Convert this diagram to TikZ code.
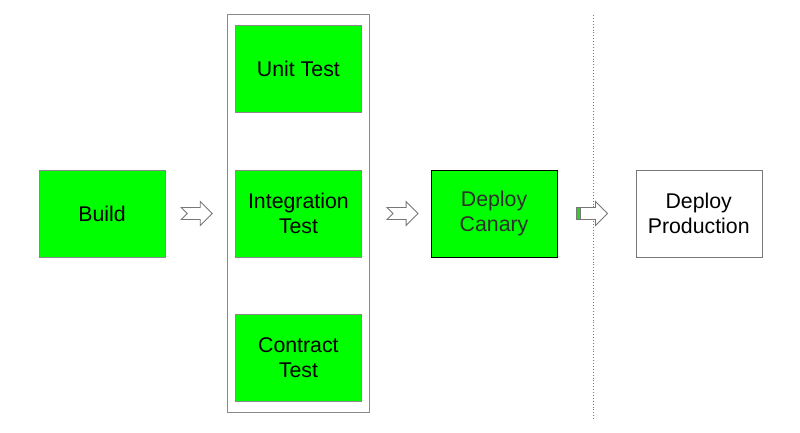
\documentclass[tikz,border=0pt]{standalone}
\usepackage{fontspec}
\setmainfont{Liberation Sans}
\usetikzlibrary{positioning,fit}
\definecolor{stagegreen}{HTML}{00FF00}
\definecolor{edgegray}{HTML}{8A8A8A}
\definecolor{arrowgray}{HTML}{777777}
\definecolor{canarytext}{HTML}{2E2E2E}
\tikzset{
  stage/.style={draw=edgegray, fill=stagegreen, minimum width=126pt, minimum height=87pt,
    inner sep=0pt, align=center, font=\fontsize{21.3}{25}\selectfont},
  arrowline/.style={draw=arrowgray, fill=white, line width=0.9pt, line join=miter},
  notcharrow/.pic={\path[arrowline] (0,-6) -- (19,-6) -- (19,-12) -- (31,0) -- (19,12) -- (19,6) -- (0,6) -- (6,0) -- cycle;},
  bararrow/.pic={\path[arrowline] (0,-6) -- (19,-6) -- (19,-12) -- (31,0) -- (19,12) -- (19,6) -- (0,6) -- cycle;
    \path[arrowline, fill=stagegreen!60!gray] (0,-6) rectangle (4,6);}
}
\begin{document}
\begin{tikzpicture}[x=1pt,y=-1pt]
    \useasboundingbox (0,0) rectangle (800,432);
    \node[stage](build) at (102,213.5){Build};
    \node[stage](integ)[right=70pt of build]{Integration\\Test};
    \node[stage](unit)[above=57pt of integ]{Unit Test};
    \node[stage](contract)[below=57pt of integ]{Contract\\Test};
    \node[draw=edgegray, line width=0.9pt, inner xsep=8pt, inner ysep=11pt, fit=(unit)(contract)](tests){};
    \node[stage, draw=black, line width=0.9pt, text=canarytext](canary)[right=69pt of integ]{Deploy\\Canary};
    \node[stage, draw=arrowgray, fill=white](prod)[right=78pt of canary]{Deploy\\Production};
    % gate between canary and production
    \coordinate (gatetop) at (593,15);
    \coordinate (gatebottom) at (593,420);
    \draw[arrowgray, dotted, line width=0.9pt] (gatetop) -- (gatebottom);
    \pic[xshift=16pt] at (build.east) {notcharrow};
    \pic[xshift=17pt] at (tests.east) {notcharrow};
    \pic[xshift=19pt] at (canary.east) {bararrow};
\end{tikzpicture}
\end{document}
